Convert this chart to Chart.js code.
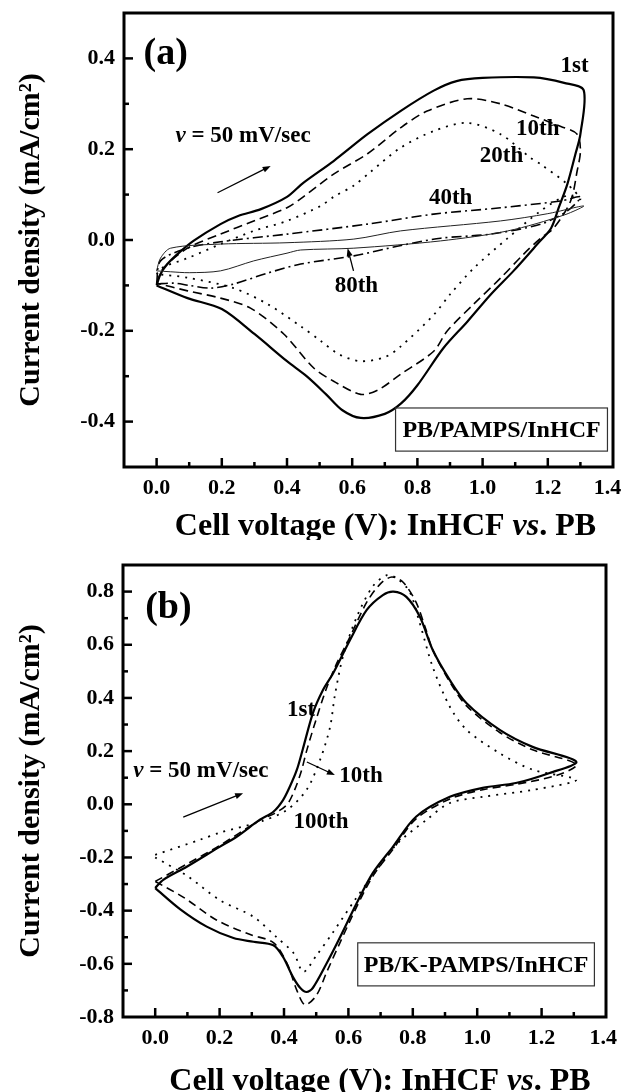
<!DOCTYPE html>
<html><head><meta charset="utf-8">
<script src="https://cdn.jsdelivr.net/npm/chart.js@4.4.1/dist/chart.umd.min.js"></script>
<style>
html,body{margin:0;padding:0;background:#fff;}
canvas{display:block;}
</style></head><body>
<canvas id="ca" width="624" height="540"></canvas>
<canvas id="cb" width="624" height="552"></canvas>
<script>
// ---------- Panel (a): PB/PAMPS/InHCF ----------
const a1stV  = [0,0.012,0.033,0.064,0.113,0.196,0.25,0.32,0.40,0.45,0.543,0.647,0.748,0.85,0.92,1.0,1.157,1.25,1.31, 1.30,1.285,1.26,1.233,1.21,1.168,1.095,1.025,0.953,0.88,0.80,0.75,0.70,0.626,0.57,0.52,0.46,0.40,0.30,0.20,0.095,0];
const a1stJ  = [-0.1,-0.075,-0.053,-0.031,-0.002,0.035,0.053,0.068,0.095,0.126,0.174,0.233,0.284,0.329,0.35,0.357,0.358,0.346,0.33, 0.233,0.19,0.123,0.07,0.026,-0.009,-0.068,-0.12,-0.18,-0.238,-0.32,-0.36,-0.383,-0.392,-0.375,-0.34,-0.30,-0.267,-0.207,-0.152,-0.128,-0.1];
const a10thV = [0,0.021,0.095,0.196,0.298,0.40,0.45,0.543,0.647,0.748,0.83,0.953,1.055,1.157,1.24,1.29, 1.30,1.29,1.27,1.218,1.178,1.126,1.055,0.973,0.892,0.85,0.748,0.68,0.626,0.543,0.482,0.39,0.288,0.196,0.095,0];
const a10thJ = [-0.095,-0.062,-0.018,0.013,0.042,0.071,0.095,0.145,0.19,0.247,0.284,0.311,0.30,0.273,0.25,0.233, 0.196,0.152,0.086,0.026,0.004,-0.031,-0.084,-0.141,-0.2,-0.245,-0.296,-0.33,-0.34,-0.311,-0.282,-0.207,-0.15,-0.128,-0.112,-0.095];
const a20thV = [0,0.02,0.095,0.196,0.298,0.40,0.503,0.543,0.605,0.656,0.748,0.85,0.953,1.055,1.147,1.178,1.26,1.30, 1.26,1.178,1.077,0.973,0.90,0.85,0.748,0.70,0.626,0.56,0.503,0.442,0.34,0.236,0.095,0];
const a20thJ = [-0.075,-0.06,-0.04,-0.009,0.02,0.042,0.075,0.095,0.12,0.15,0.203,0.24,0.258,0.233,0.181,0.167,0.123,0.09, 0.098,0.064,0.004,-0.062,-0.12,-0.165,-0.235,-0.258,-0.267,-0.252,-0.222,-0.19,-0.141,-0.106,-0.083,-0.075];
const a40thV = [0,0.012,0.095,0.196,0.40,0.647,0.85,1.055,1.24,1.30, 1.26,1.178,1.025,0.871,0.75,0.605,0.442,0.34,0.236,0.166,0.10,0.05,0];
const a40thJ = [-0.097,-0.046,-0.018,-0.004,0.013,0.035,0.057,0.071,0.086,0.095, 0.064,0.035,0.013,0.004,-0.012,-0.035,-0.053,-0.073,-0.097,-0.106,-0.10,-0.095,-0.097];
const a80thV = [0,0.012,0.043,0.196,0.40,0.605,0.748,1.055,1.20,1.31, 1.25,1.077,0.871,0.605,0.442,0.40,0.298,0.196,0.10,0.043,0];
const a80thJ = [-0.068,-0.04,-0.018,-0.009,-0.006,0.002,0.02,0.042,0.058,0.075, 0.055,0.02,-0.002,-0.018,-0.022,-0.029,-0.046,-0.068,-0.072,-0.07,-0.068];

// ---------- Panel (b): PB/K-PAMPS/InHCF ----------
const b1stV   = [0,0.025,0.098,0.2,0.253,0.325,0.367,0.397,0.418,0.44,0.459,0.49,0.521,0.553,0.605,0.657,0.707,0.74,0.78,0.822,0.862,0.915,0.967,1.07,1.172,1.308, 1.225,1.12,1.017,0.915,0.81,0.738,0.676,0.626,0.574,0.533,0.49,0.47,0.45,0.428,0.397,0.367,0.305,0.243,0.16,0.078,0];
const b1stJ   = [-0.315,-0.284,-0.235,-0.16,-0.122,-0.058,-0.028,0.016,0.066,0.13,0.21,0.344,0.43,0.494,0.618,0.731,0.787,0.80,0.78,0.705,0.58,0.467,0.38,0.28,0.216,0.16, 0.118,0.08,0.062,0.028,-0.047,-0.16,-0.258,-0.371,-0.5,-0.597,-0.69,-0.706,-0.69,-0.65,-0.574,-0.53,-0.517,-0.503,-0.46,-0.395,-0.315];
const b10thV  = [0,0.098,0.2,0.325,0.37,0.41,0.435,0.455,0.47,0.5,0.53,0.56,0.605,0.657,0.70,0.735,0.77,0.81,0.84,0.862,0.915,0.967,1.07,1.172,1.308, 1.25,1.12,1.017,0.915,0.81,0.738,0.676,0.626,0.574,0.533,0.5,0.465,0.44,0.41,0.367,0.295,0.19,0.088,0];
const b10thJ  = [-0.29,-0.225,-0.155,-0.06,-0.035,0.0,0.06,0.13,0.2,0.32,0.43,0.52,0.63,0.76,0.83,0.855,0.835,0.76,0.66,0.58,0.46,0.37,0.27,0.205,0.15, 0.11,0.075,0.055,0.02,-0.055,-0.17,-0.27,-0.385,-0.52,-0.63,-0.72,-0.754,-0.70,-0.6,-0.52,-0.49,-0.435,-0.35,-0.29];
const b100thV = [0,0.14,0.2,0.325,0.408,0.47,0.512,0.543,0.558,0.584,0.626,0.676,0.72,0.75,0.79,0.822,0.862,0.915,0.967,1.07,1.172,1.308, 1.172,1.017,0.915,0.843,0.75,0.68,0.62,0.553,0.5,0.46,0.43,0.377,0.305,0.2,0.1,0];
const b100thJ = [-0.19,-0.133,-0.107,-0.066,-0.022,0.054,0.167,0.29,0.41,0.56,0.705,0.82,0.862,0.85,0.80,0.68,0.516,0.367,0.28,0.192,0.13,0.092, 0.054,0.028,0.005,-0.058,-0.15,-0.26,-0.36,-0.48,-0.57,-0.63,-0.56,-0.5,-0.423,-0.36,-0.27,-0.2];

// ---------- Axis / tick label settings ----------
const xTickLabels = ['0.0','0.2','0.4','0.6','0.8','1.0','1.2','1.4'];
const aYTickLabels = ['-0.4','-0.2','0.0','0.2','0.4'];
const bYTickLabels = ['-0.8','-0.6','-0.4','-0.2','0.0','0.2','0.4','0.6','0.8'];
const yTitle = 'Current density (mA/cm\u00B2)';

const FONT = "'Liberation Serif','Times New Roman',serif";

function pts(v, j) { return v.map((x, i) => ({ x: x, y: j[i] })); }
function fmt(v) { const r = Math.round(v * 10) / 10; return (r === 0 ? 0 : r).toFixed(1); }

const decor = {
  id: 'decor',
  afterDatasetsDraw(chart, args, o) {
    const ctx = chart.ctx, a = chart.chartArea, xs = chart.scales.x, ys = chart.scales.y;
    const X = v => xs.getPixelForValue(v), Y = v => ys.getPixelForValue(v);
    ctx.save();
    // frame
    ctx.strokeStyle = '#000'; ctx.lineWidth = 3;
    ctx.strokeRect(a.left, a.top, a.right - a.left, a.bottom - a.top);
    // inward ticks
    ctx.lineWidth = 2.5;
    xs.ticks.forEach(t => {
      if (t.value <= xs.min + 1e-9 || t.value >= xs.max - 1e-9) return;
      const k = Math.round(t.value * 10), len = (k % 2 === 0) ? 9 : 5, p = X(t.value);
      ctx.beginPath(); ctx.moveTo(p, a.bottom); ctx.lineTo(p, a.bottom - len); ctx.stroke();
    });
    ys.ticks.forEach(t => {
      if (t.value <= ys.min + 1e-9 || t.value >= ys.max - 1e-9) return;
      const k = Math.round(t.value * 10), len = (k % 2 === 0) ? 9 : 5, p = Y(t.value);
      ctx.beginPath(); ctx.moveTo(a.left, p); ctx.lineTo(a.left + len, p); ctx.stroke();
    });
    // rich text helper
    function rich(parts, x, y, size, align, baseline) {
      ctx.textBaseline = baseline || 'middle';
      let w = 0;
      parts.forEach(p => { ctx.font = p[1] + ' ' + size + 'px ' + FONT; w += ctx.measureText(p[0]).width; });
      let cx = align === 'center' ? x - w / 2 : x;
      ctx.textAlign = 'left';
      parts.forEach(p => { ctx.font = p[1] + ' ' + size + 'px ' + FONT; ctx.fillText(p[0], cx, y); cx += ctx.measureText(p[0]).width; });
    }
    ctx.fillStyle = '#000';
    (o.texts || []).forEach(t => rich(t.parts, X(t.x), Y(t.y), t.size, t.align || 'center'));
    // arrows
    ctx.lineWidth = 1.3;
    (o.arrows || []).forEach(ar => {
      const x0 = X(ar.from[0]), y0 = Y(ar.from[1]), x1 = X(ar.to[0]), y1 = Y(ar.to[1]);
      const ang = Math.atan2(y1 - y0, x1 - x0), h = 8, hw = 3;
      ctx.beginPath(); ctx.moveTo(x0, y0); ctx.lineTo(x1 - h * 0.6 * Math.cos(ang), y1 - h * 0.6 * Math.sin(ang)); ctx.stroke();
      ctx.beginPath();
      ctx.moveTo(x1, y1);
      ctx.lineTo(x1 - h * Math.cos(ang) + hw * Math.sin(ang), y1 - h * Math.sin(ang) - hw * Math.cos(ang));
      ctx.lineTo(x1 - h * Math.cos(ang) - hw * Math.sin(ang), y1 - h * Math.sin(ang) + hw * Math.cos(ang));
      ctx.closePath(); ctx.fill();
    });
    // boxed label
    if (o.box) {
      const b = o.box;
      ctx.lineWidth = 1.2; ctx.strokeStyle = '#333';
      const x0 = X(b.x0), x1 = X(b.x1), y0 = Y(b.y0), y1 = Y(b.y1);
      ctx.strokeRect(x0, y0, x1 - x0, y1 - y0);
      ctx.fillStyle = '#000';
      rich([[b.text, 'bold']], (x0 + x1) / 2, (y0 + y1) / 2 + 1, b.size, 'center');
    }
    // x-axis title with italic "vs"
    rich(o.xTitle.parts, X(o.xTitle.x), a.bottom + o.xTitle.dy, o.xTitle.size, 'center', 'alphabetic');
    ctx.restore();
  }
};

function makeChart(id, datasets, cfg) {
  return new Chart(document.getElementById(id), {
    type: 'scatter',
    data: { datasets: datasets },
    plugins: [decor],
    options: {
      responsive: false, animation: false, events: [],
      layout: { padding: { top: cfg.padTop, right: cfg.padRight, bottom: 0, left: 0 } },
      plugins: { legend: { display: false }, tooltip: { enabled: false }, decor: cfg.decor },
      elements: { point: { radius: 0 }, line: { tension: 0.3, borderColor: '#000', fill: false } },
      scales: {
        x: {
          type: 'linear', min: -0.1, max: 1.4,
          grid: { display: false, drawTicks: false }, border: { display: false },
          ticks: {
            stepSize: 0.1, autoSkip: false, maxRotation: 0, padding: 8, color: '#000',
            font: { family: FONT, size: 22, weight: 'bold' },
            callback: v => {
              const s = fmt(v);
              if (!xTickLabels.includes(s)) return '';
              return s === '1.4' ? s + cfg.lastPad : s;
            }
          },
          afterFit: s => { s.height = cfg.xHeight; s.paddingLeft = 0; s.paddingRight = 0; }
        },
        y: {
          type: 'linear', min: cfg.yMin, max: cfg.yMax,
          grid: { display: false, drawTicks: false }, border: { display: false },
          ticks: {
            stepSize: 0.1, autoSkip: false, padding: 9, color: '#000',
            font: { family: FONT, size: 22, weight: 'bold' },
            callback: v => { const s = fmt(v); return cfg.yLabels.includes(s) ? s : ''; }
          },
          title: { display: true, text: yTitle, color: '#000', font: { family: FONT, size: 30, weight: 'bold' }, padding: { top: 13, bottom: 0 } },
          afterFit: s => { s.width = cfg.yWidth; s.paddingTop = 0; s.paddingBottom = 0; }
        }
      }
    }
  });
}

const xTitleParts = [['Cell voltage (V): InHCF ', 'bold'], ['vs', 'italic bold'], ['. PB', 'bold']];
const rateParts = [['v', 'italic bold'], [' = 50 mV/sec', 'bold']];

makeChart('ca', [
  { data: pts(a80thV, a80thJ), showLine: true, borderWidth: 1, borderColor: '#222' },
  { data: pts(a40thV, a40thJ), showLine: true, borderWidth: 1.6, borderDash: [10, 4, 2, 4] },
  { data: pts(a20thV, a20thJ), showLine: true, borderWidth: 1.8, borderDash: [2, 6] },
  { data: pts(a10thV, a10thJ), showLine: true, borderWidth: 1.6, borderDash: [9, 5] },
  { data: pts(a1stV, a1stJ), showLine: true, borderWidth: 2.2 }
], {
  padTop: 13, padRight: 11, xHeight: 73, yWidth: 124, yMin: -0.5, yMax: 0.5, yLabels: aYTickLabels, lastPad: '\u00A0\u00A0',
  decor: {
    texts: [
      { parts: [['(a)', 'bold']], x: -0.04, y: 0.41, size: 38, align: 'left' },
      { parts: rateParts, x: 0.058, y: 0.229, size: 23, align: 'left' },
      { parts: [['1st', 'bold']], x: 1.282, y: 0.384, size: 23 },
      { parts: [['10th', 'bold']], x: 1.169, y: 0.245, size: 23 },
      { parts: [['20th', 'bold']], x: 1.058, y: 0.185, size: 23 },
      { parts: [['40th', 'bold']], x: 0.902, y: 0.093, size: 23 },
      { parts: [['80th', 'bold']], x: 0.613, y: -0.101, size: 23 }
    ],
    arrows: [
      { from: [0.187, 0.104], to: [0.35, 0.163] },
      { from: [0.604, -0.068], to: [0.586, -0.018] }
    ],
    box: { x0: 0.733, x1: 1.383, y0: -0.370, y1: -0.465, text: 'PB/PAMPS/InHCF', size: 24 },
    xTitle: { parts: xTitleParts, x: 0.702, dy: 68, size: 32 }
  }
});

makeChart('cb', [
  { data: pts(b100thV, b100thJ), showLine: true, borderWidth: 1.8, borderDash: [2, 6] },
  { data: pts(b10thV, b10thJ), showLine: true, borderWidth: 1.6, borderDash: [8, 5] },
  { data: pts(b1stV, b1stJ), showLine: true, borderWidth: 2.2 }
], {
  padTop: 25, padRight: 18, xHeight: 75, yWidth: 123, yMin: -0.8, yMax: 0.9, yLabels: bYTickLabels, lastPad: '\u00A0',
  decor: {
    texts: [
      { parts: [['(b)', 'bold']], x: -0.031, y: 0.738, size: 38, align: 'left' },
      { parts: rateParts, x: -0.068, y: 0.125, size: 23, align: 'left' },
      { parts: [['1st', 'bold']], x: 0.453, y: 0.355, size: 23 },
      { parts: [['10th', 'bold']], x: 0.639, y: 0.107, size: 23 },
      { parts: [['100th', 'bold']], x: 0.515, y: -0.067, size: 23 }
    ],
    arrows: [
      { from: [0.087, -0.048], to: [0.273, 0.042] },
      { from: [0.471, 0.159], to: [0.558, 0.11] }
    ],
    box: { x0: 0.629, x1: 1.364, y0: -0.521, y1: -0.683, text: 'PB/K-PAMPS/InHCF', size: 24 },
    xTitle: { parts: xTitleParts, x: 0.698, dy: 73, size: 32 }
  }
});
</script></body></html>
